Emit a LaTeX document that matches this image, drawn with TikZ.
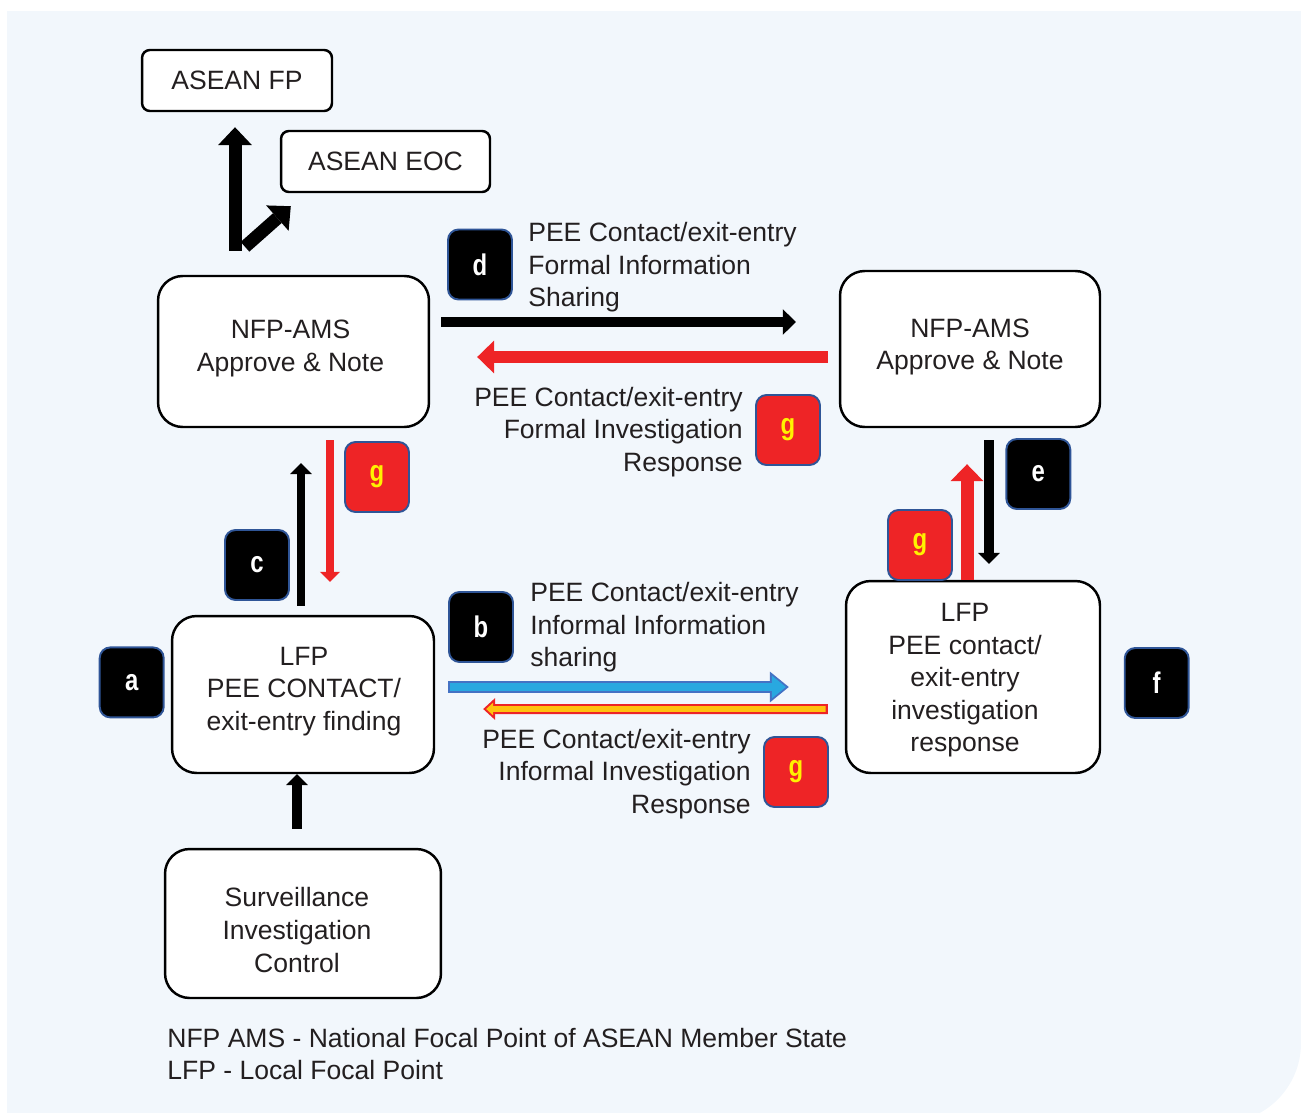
\documentclass[tikz,border=0pt]{standalone}
\usepackage{fontspec}
\setmainfont{Liberation Sans}
\usetikzlibrary{arrows.meta}
\usetikzlibrary{calc}

\definecolor{bgblue}{HTML}{F2F7FC}
\definecolor{txtgray}{HTML}{231F20}
\definecolor{gred}{HTML}{EE2426}
\definecolor{gyellow}{HTML}{FFF200}
\definecolor{badgeblue}{HTML}{2F5597}
\definecolor{infoblue}{HTML}{29A8E0}
\definecolor{infoedge}{HTML}{4472C4}
\definecolor{respyellow}{HTML}{FFC20E}

\newcommand{\bdg}[1]{\scalebox{0.8}[1]{#1}}

\tikzset{
  txt/.style={font=\fontsize{15.1}{18.5}\selectfont, text=txtgray, inner sep=0pt},
  box/.style={draw=black, line width=1.4pt, fill=white, rounded corners=14pt},
  smallbox/.style={box, txt, rounded corners=4.5pt},
  badge/.style={draw=badgeblue, line width=1.1pt, rounded corners=6pt, minimum width=1.28cm,
    minimum height=1.40cm, inner sep=0pt, font=\fontsize{17}{18}\selectfont\bfseries},
  blkbadge/.style={badge, fill=black, text=white},
  redbadge/.style={badge, fill=gred, text=gyellow},
  % arrow looks
  blkfat/.style={black, line width=7.4pt, -{Triangle[length=10.2pt,width=19.3pt,line width=0pt]}},
  blkmid/.style={black, line width=5.7pt, -{Triangle[length=7.4pt,width=14.7pt,line width=0pt]}},
  redmid/.style={gred, line width=6.8pt, -{Triangle[length=9.6pt,width=18.7pt,line width=0pt]}},
  blkthin/.style={black, line width=4.5pt, -{Triangle[length=6.2pt,width=12.5pt,line width=0pt]}},
  redthin/.style={gred, line width=4.8pt, -{Triangle[length=5.7pt,width=11.4pt,line width=0pt]}}
}

\begin{document}
\begin{tikzpicture}[x=0.02cm,y=-0.02cm]
    \useasboundingbox (0,0) rectangle (1301,1112);
    % background panel
    \fill[bgblue] (7,11) -- (1301,11) -- (1301,1043) arc[start angle=0, end angle=90, radius=80] -- (7,1123) -- cycle;

    % draws boxes
    \node[smallbox, minimum width=3.8cm, minimum height=1.22cm] (fp) at (237,80.5) {ASEAN FP};
    \node[smallbox, minimum width=4.18cm, minimum height=1.22cm] (eoc) at (385.5,161.5) {ASEAN EOC};
    \node[box, minimum width=5.42cm, minimum height=3.02cm] (nfpL) at (293.5,351.5) {};
    \node[box, minimum width=5.2cm, minimum height=3.12cm] (nfpR) at (970,349) {};
    \node[box, minimum width=5.24cm, minimum height=3.14cm] (lfpL) at (303,694.5) {};
    \node[box, minimum width=5.08cm, minimum height=3.84cm] (lfpR) at (973,677) {};
    \node[box, minimum width=5.52cm, minimum height=2.98cm] (surv) at (303,923.5) {};

    % box texts
    \node[txt, align=center] (nfpLtxt) at (290.5,348.5) {NFP-AMS\\Approve \& Note};
    \node[txt, align=center] (nfpRtxt) at (970,347) {NFP-AMS\\Approve \& Note};
    \node[txt, align=center] (lfpLtxt) at (304,691.5) {LFP\\PEE CONTACT/\\exit-entry finding};
    \node[txt, align=center] (lfpRtxt) at (965,680.5) {LFP\\PEE contact/\\exit-entry\\investigation\\response};
    \node[txt, align=center] (survtxt) at (297,930) {Surveillance\\Investigation\\Control};

    % draws arrows
    \coordinate (fork) at ($(nfpL.north -| fp.south)+(8,-28)$);
    \draw[blkfat] ($(nfpL.north -| fp.south)+(-2,-24)$) -- ($(fp.south)+(-2,15)$);
    \draw[blkfat] (fork) -- ($(eoc.south west)+(11,13)$);
    \draw[blkmid] ($(nfpL.east)+(11,-29.5)$) -- ($(nfpR.west)+(-43,-27)$);
    \draw[redmid] ($(nfpR.west)+(-11,8)$) -- ($(nfpL.east)+(47,5.5)$);
    \draw[blkthin] ($(lfpL.north)+(-2,-9)$) -- ($(lfpL.north |- nfpL.south)+(-2,35)$);
    \draw[redthin] ($(lfpL.north |- nfpL.south)+(27,12)$) -- ($(lfpL.north)+(27,-33)$);
    \draw[blkthin, line width=5.5pt] ($(lfpR.north |- nfpR.south)+(16,12)$) -- ($(lfpR.north)+(16,-16)$);
    \draw[redmid, line width=7.4pt] ($(lfpR.north)+(-6,0)$) -- ($(lfpR.north |- nfpR.south)+(-6,36)$);
    \draw[blkthin, line width=5.5pt] ($(surv.north)+(-6,-19)$) -- ($(lfpL.south)+(-6,0)$);
    % outlined arrows
    \draw[infoedge, line width=6.3pt, -{Triangle[length=10.8pt,width=17.6pt,line width=0pt]}]
        ($(lfpL.east)+(13,-7.5)$) -- ($(lfpR.west)+(-56,10)$);
    \draw[infoblue, line width=4.0pt, shorten <=1.2pt, shorten >=1.7pt, -{Triangle[length=7.9pt,width=12.9pt,line width=0pt]}]
        ($(lfpL.east)+(13,-7.5)$) -- ($(lfpR.west)+(-56,10)$);
    \draw[gred, line width=5.7pt, -{Triangle[length=6.8pt,width=12.5pt,line width=0pt]}]
        ($(lfpR.west)+(-17,32)$) -- ($(lfpL.east)+(48,14.5)$);
    \draw[respyellow, line width=3.4pt, shorten <=1.2pt, shorten >=1.7pt, -{Triangle[length=4.0pt,width=7.3pt,line width=0pt]}]
        ($(lfpR.west)+(-17,32)$) -- ($(lfpL.east)+(48,14.5)$);

    % draws badges
    \node[blkbadge] (ba) at (131.7,682.4) {\bdg{a}};
    \node[blkbadge] (bb) at (481,627) {\bdg{b}};
    \node[blkbadge] (bc) at (257,565) {\bdg{c}};
    \node[blkbadge] (bd) at (480,264.5) {\bdg{d}};
    \node[blkbadge] (be) at (1038.3,474) {\bdg{e}};
    \node[blkbadge] (bf) at (1156.7,683) {\bdg{f}};
    \node[redbadge] (gL) at (377,477) {\bdg{g}};
    \node[redbadge] (gM) at (788,430) {\bdg{g}};
    \node[redbadge] (gR) at (920,545) {\bdg{g}};
    \node[redbadge] (gB) at (796,772) {\bdg{g}};

    % labels arrows
    \node[txt, align=left, anchor=west] (dlab) at (528,267.5) {PEE Contact/exit-entry\\Formal Information\\Sharing};
    \node[txt, align=right, anchor=east] (glab) at (743,431.7) {PEE Contact/exit-entry\\Formal Investigation\\Response};
    \node[txt, align=left, anchor=west] (blab) at (530,627.4) {PEE Contact/exit-entry\\Informal Information\\sharing};
    \node[txt, align=right, anchor=east] (ilab) at (751,774) {PEE Contact/exit-entry\\Informal Investigation\\Response};
    \node[txt, align=left, anchor=west] (notes) at (167,1054) {NFP AMS - National Focal Point of ASEAN Member State\\LFP - Local Focal Point};
\end{tikzpicture}
\end{document}
